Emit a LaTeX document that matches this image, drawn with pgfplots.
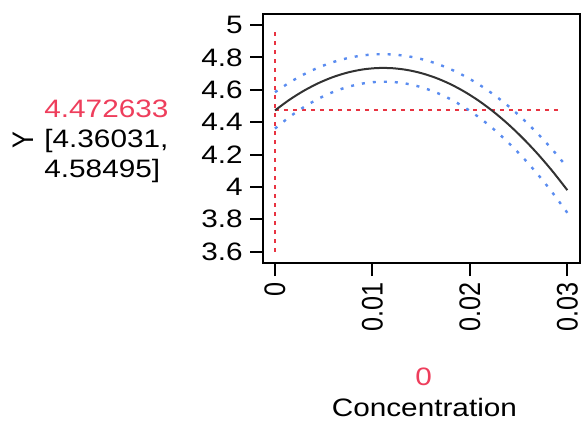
\documentclass[border=0pt]{standalone}
\usepackage{pgfplots}
\pgfplotsset{compat=1.18}
\usepackage{fontspec}
\setmainfont{Liberation Sans}
\definecolor{ciblue}{RGB}{90,140,240}
\definecolor{refred}{RGB}{232,52,66}
\definecolor{txtred}{RGB}{238,62,92}
\definecolor{curve}{RGB}{50,50,50}
% the reference text is a little wider than Arial
\newcommand\wide[1]{\scalebox{1.18}[1]{#1}}
\newcommand\tall[1]{\scalebox{1}[1.18]{#1}}

\begin{document}
\fontsize{12.6}{15}\selectfont
\begin{tikzpicture}
\useasboundingbox (-131.5pt,-78.5pt) rectangle (159pt,131.5pt);
\begin{axis}[
  at={(0pt,0pt)}, anchor=south west,
  scale only axis, width=158.5pt, height=124.5pt,
  xmin=-0.00123, xmax=0.0313, ymin=3.53, ymax=5.068,
  scaled x ticks=false, scaled y ticks=false,
  axis line style={line width=1pt, black},
  tick align=outside, major tick length=6.5pt,
  every tick/.style={line width=1pt, black},
  xtick pos=bottom, ytick pos=left,
  xtick={0,0.01,0.02,0.03},
  xticklabels={\tall{0},\tall{0.01},\tall{0.02},\tall{0.03}},
  ytick={3.6,3.8,4,4.2,4.4,4.6,4.8,5},
  yticklabels={\wide{3.6},\wide{3.8},\wide{4},\wide{4.2},\wide{4.4},\wide{4.6},\wide{4.8},\wide{5}},
  tick label style={font=\fontsize{12.6}{15}\selectfont, inner sep=0pt},
  xticklabel style={rotate=90, anchor=east, xshift=-3pt},
  yticklabel style={anchor=east, xshift=-3.5pt},
]
% reference lines at the current setting
\addplot[refred, line width=1pt, dash pattern=on 2pt off 2.5pt] coordinates {(0,3.6) (0,4.98)};
\addplot[refred, line width=1pt, dash pattern=on 2pt off 2.5pt] coordinates {(0,4.472633) (0.0295,4.472633)};
% confidence band
\addplot[ciblue, line width=1.2pt, dash pattern=on 1.5pt off 4pt, smooth] coordinates {
(0,4.58495) (0.0015,4.6452) (0.003,4.6963) (0.0045,4.7384) (0.006,4.7718)
(0.0075,4.7962) (0.009,4.8122) (0.0105,4.8195) (0.012,4.8183) (0.0135,4.8084)
(0.015,4.7901) (0.0165,4.7632) (0.018,4.7276) (0.0195,4.6832) (0.021,4.6300)
(0.0225,4.5677) (0.024,4.4965) (0.0255,4.4161) (0.027,4.3267) (0.0285,4.2279)
(0.03,4.1200)};
\addplot[ciblue, line width=1.2pt, dash pattern=on 1.5pt off 4pt, smooth] coordinates {
(0,4.36031) (0.0015,4.4328) (0.003,4.4945) (0.0045,4.5460) (0.006,4.5872)
(0.0075,4.6182) (0.009,4.6388) (0.0105,4.6489) (0.012,4.6485) (0.0135,4.6376)
(0.015,4.6161) (0.0165,4.5842) (0.018,4.5420) (0.0195,4.4894) (0.021,4.4266)
(0.0225,4.3537) (0.024,4.2707) (0.0255,4.1779) (0.027,4.0751) (0.0285,3.9625)
(0.03,3.8400)};
% prediction
\addplot[curve, line width=1pt, smooth] coordinates {
(0,4.472633) (0.0015,4.5390) (0.003,4.5954) (0.0045,4.6422) (0.006,4.6795)
(0.0075,4.7072) (0.009,4.7255) (0.0105,4.7342) (0.012,4.7334) (0.0135,4.7230)
(0.015,4.7031) (0.0165,4.6737) (0.018,4.6348) (0.0195,4.5863) (0.021,4.5283)
(0.0225,4.4607) (0.024,4.3836) (0.0255,4.2970) (0.027,4.2009) (0.0285,4.0952)
(0.03,3.9800)};
\end{axis}
% response readout on the left
\node[txtred, inner sep=0, anchor=base west] at (-109.5pt,73pt) {\wide{4.472633}};
\node[inner sep=0, anchor=base west] at (-109.5pt,58pt) {\wide{[4.36031,}};
\node[inner sep=0, anchor=base west] at (-109.5pt,43pt) {\wide{4.58495]}};
\node[inner sep=0, rotate=90] at (-120pt,61.5pt) {\tall{Y}};
% factor readout below
\node[txtred, inner sep=0, anchor=base] at (80.3pt,-61pt) {\wide{0}};
\node[inner sep=0, anchor=base] at (80.7pt,-76.5pt) {\wide{Concentration}};
\end{tikzpicture}
\end{document}
